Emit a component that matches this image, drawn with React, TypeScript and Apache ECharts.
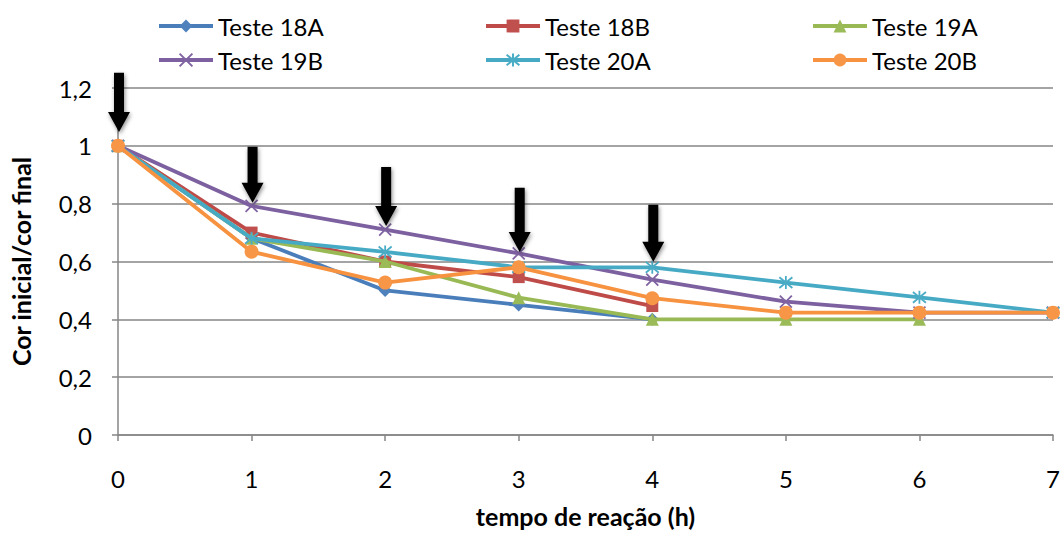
import React, { useEffect, useRef } from "react";
import * as echarts from "echarts";

const hours = [0, 1, 2, 3, 4, 5, 6, 7];
const seriesNames = ["Teste 18A", "Teste 18B", "Teste 19A", "Teste 19B", "Teste 20A", "Teste 20B"];
const teste18A = [1, 0.68, 0.5, 0.45, 0.4, null, null, null];
const teste18B = [1, 0.7, 0.6, 0.546, 0.446, null, null, null];
const teste19A = [1, 0.68, 0.6, 0.475, 0.4, 0.4, 0.4, null];
const teste19B = [1, 0.792, 0.71, 0.628, 0.537, 0.461, 0.423, 0.423];
const teste20A = [1, 0.68, 0.633, 0.58, 0.58, 0.527, 0.476, 0.423];
const teste20B = [1, 0.634, 0.527, 0.58, 0.473, 0.423, 0.423, 0.423];
// arrows: x position, tip value, tail value
const arrowX = [0, 1, 2, 3, 4];
const arrowTip = [1.048, 0.803, 0.723, 0.633, 0.599];
const arrowTail = [1.253, 0.997, 0.927, 0.855, 0.796];

const colors = ["#4A7EBB", "#BE4B48", "#98B954", "#7D60A0", "#46AAC5", "#F69240"];
const markerColors = ["#4F81BD", "#C0504D", "#9BBB59", "#8064A2", "#4BACC6", "#F79646"];
const symbols = [
  "diamond",
  "rect",
  "triangle",
  "path://M0,0 L10,10 M10,0 L0,10",
  "path://M0,0 L10,10 M10,0 L0,10 M5,-1 L5,11",
  "circle",
];
const symbolSizes = [13, 12, 13, 12, 13, 14];
const allData = [teste18A, teste18B, teste19A, teste19B, teste20A, teste20B];

const FONT = "Lato, 'Open Sans', sans-serif";

export default function App() {
  const ref = useRef<HTMLDivElement>(null);
  useEffect(() => {
    if (!ref.current) return;
    const chart = echarts.init(ref.current, undefined, { renderer: "svg" });
    const lineSeries = seriesNames.map((name, i) => {
      const isStroke = symbols[i].startsWith("path://");
      return {
        name,
        type: "line",
        data: hours.map((h, j) => [h, allData[i][j]]),
        symbol: symbols[i],
        symbolSize: symbolSizes[i],
        showAllSymbol: true,
        lineStyle: { color: colors[i], width: 3.8 },
        itemStyle: isStroke
          ? { color: "none", borderColor: markerColors[i], borderWidth: 1.8 }
          : { color: markerColors[i], borderColor: markerColors[i], borderWidth: 0 },
        z: 2 + i,
      };
    });
    const arrowSeries = {
      type: "custom",
      name: "arrows",
      clip: false,
      z: 20,
      data: arrowX.map((x, i) => [x, arrowTip[i], arrowTail[i]]),
      renderItem: (params: any, api: any) => {
        const x = api.value(0);
        const tip = api.coord([x, api.value(1)]);
        const tail = api.coord([x, api.value(2)]);
        const cx = tip[0] + 1;
        const sw = 5;
        const hw = 11;
        const hh = 20;
        return {
          type: "polygon",
          shape: {
            points: [
              [cx - sw, tail[1]],
              [cx + sw, tail[1]],
              [cx + sw, tip[1] - hh],
              [cx + hw, tip[1] - hh],
              [cx, tip[1]],
              [cx - hw, tip[1] - hh],
              [cx - sw, tip[1] - hh],
            ],
          },
          style: {
            fill: "#000",
            shadowBlur: 4,
            shadowColor: "rgba(0,0,0,0.45)",
            shadowOffsetX: 1,
            shadowOffsetY: 2,
          },
        };
      },
    };
    const legendCommon = {
      orient: "vertical",
      top: 9,
      itemGap: 10,
      itemWidth: 54,
      itemHeight: 16,
      lineStyle: { width: 4 },
      textStyle: { fontFamily: FONT, fontSize: 24, color: "#000" },
    };
    chart.setOption({
      animation: false,
      backgroundColor: "#fff",
      legend: [
        { ...legendCommon, left: 152, data: ["Teste 18A", "Teste 19B"] },
        { ...legendCommon, left: 479, data: ["Teste 18B", "Teste 20A"] },
        { ...legendCommon, left: 806, data: ["Teste 19A", "Teste 20B"] },
      ],
      grid: { left: 116, right: 10, top: 88, bottom: 100, containLabel: false },
      xAxis: {
        type: "value",
        min: 0,
        max: 7,
        interval: 1,
        name: "tempo de reação (h)",
        nameLocation: "middle",
        nameGap: 68,
        nameTextStyle: { fontFamily: FONT, fontSize: 25, fontWeight: "bold", color: "#000" },
        axisLine: { show: true, lineStyle: { color: "#868686", width: 1.5 } },
        axisTick: { show: true, length: 6, lineStyle: { color: "#868686", width: 1.5 } },
        axisLabel: { fontFamily: FONT, fontSize: 24, color: "#000", margin: 31 },
        splitLine: { show: false },
      },
      yAxis: {
        type: "value",
        min: 0,
        max: 1.2,
        interval: 0.2,
        name: "Cor inicial/cor final",
        nameLocation: "middle",
        nameGap: 85,
        nameRotate: 90,
        nameTextStyle: { fontFamily: FONT, fontSize: 25, fontWeight: "bold", color: "#000" },
        axisLine: { show: true, lineStyle: { color: "#868686", width: 1.5 } },
        axisTick: { show: true, length: 6, lineStyle: { color: "#868686", width: 1.5 } },
        axisLabel: {
          fontFamily: FONT,
          fontSize: 24,
          color: "#000",
          margin: 26,
          formatter: (v: number) => String(Math.round(v * 10) / 10).replace(".", ","),
        },
        splitLine: { show: true, lineStyle: { color: "#868686", width: 1.5 } },
      },
      series: [...lineSeries, arrowSeries],
    });
    return () => chart.dispose();
  }, []);
  return (
    <div
      ref={ref}
      style={{ width: 1063, height: 535, position: "absolute", left: 0, top: 0 }}
    />
  );
}
